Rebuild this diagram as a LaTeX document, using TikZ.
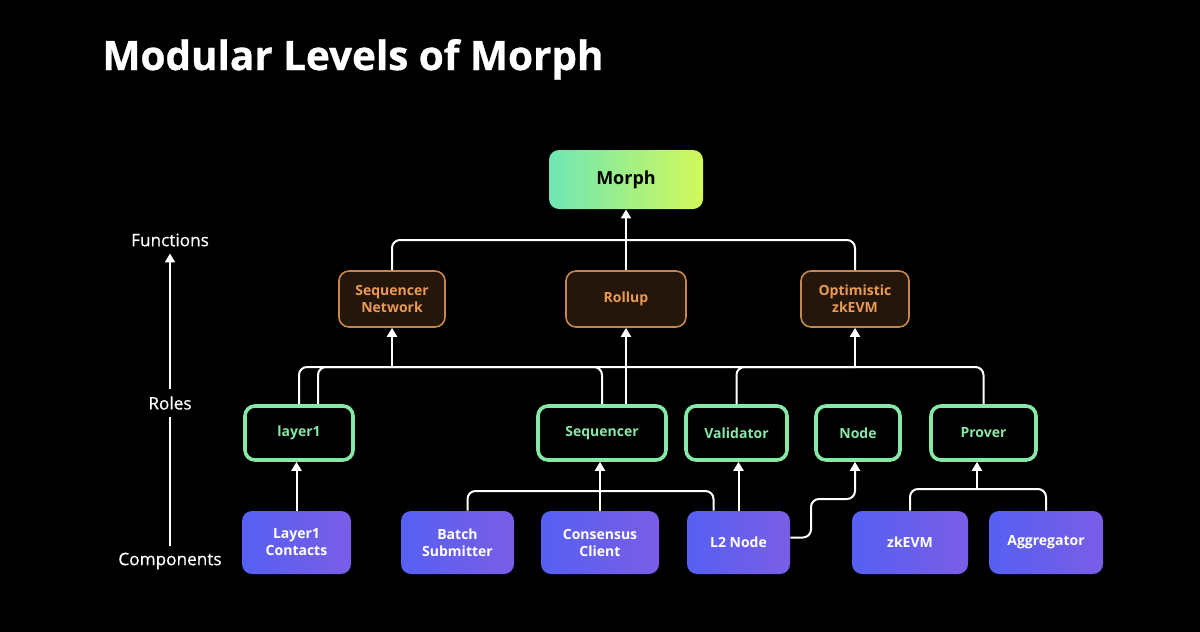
\documentclass[tikz,border=0pt]{standalone}
\usepackage{fontspec}
\setmainfont{Open Sans}
\newfontfamily\axfont[FakeBold=0.5]{Open Sans}
\newfontfamily\titlefont[FakeBold=0.8]{Open Sans Bold}
\usetikzlibrary{arrows.meta,calc}
\definecolor{bgblack}{HTML}{000000}
\definecolor{morphL}{HTML}{6EE6B4}
\definecolor{morphR}{HTML}{D2F95A}
\definecolor{fnfill}{HTML}{24160A}
\definecolor{fnline}{HTML}{C7864A}
\definecolor{fntext}{HTML}{EA9A55}
\definecolor{rolegreen}{HTML}{86E8A6}
\definecolor{compL}{HTML}{5660F2}
\definecolor{compR}{HTML}{7A5DE6}
\tikzset{
  box/.style={rounded corners=5pt, inner sep=0pt, align=center,
    font=\bfseries\fontsize{7}{8.5}\selectfont},
  fnbox/.style={box, draw=fnline, line width=0.8pt, fill=fnfill, text=fntext,
    minimum height=28pt},
  rolebox/.style={box, draw=rolegreen, line width=1.8pt, fill=black, text=rolegreen,
    minimum height=27pt},
  compbox/.style={box, left color=compL, right color=compR, text=white,
    minimum height=31.5pt},
  wire/.style={white, line width=1pt, rounded corners=4pt},
  arrow/.style={wire, -{Triangle[width=5pt,length=4.5pt]}},
  axlabel/.style={text=white, font=\axfont\fontsize{8.6}{10}\selectfont}
}
\begin{document}
\begin{tikzpicture}[x=0.5pt, y=-0.5pt]
  \fill[bgblack] (0,0) rectangle (1200,632);
  \useasboundingbox (0,0) rectangle (1200,632);
  % title
  \node[anchor=base west, inner sep=0pt, text=white, font=\titlefont\fontsize{20.2}{22}\selectfont]
    (title) at (102,70) {Modular Levels of Morph};
  % left axis
  \node[axlabel] (func) at (170,240) {Functions};
  \node[axlabel] (roles) at (170,403) {Roles};
  \node[axlabel] (comp) at (170,561) {Components};
  \draw[wire] (comp.north) -- (roles.south);
  \draw[arrow] (roles.north) -- (func.south);
  % top
  \node[box, left color=morphL, right color=morphR, text=black,
    minimum width=77pt, minimum height=29.5pt, font=\bfseries\fontsize{9}{11}\selectfont]
    (morph) at (626,179.5) {Morph};
  % functions
  \node[fnbox, minimum width=53pt] (seqnet) at (392,299) {Sequencer\\Network};
  \node[fnbox, minimum width=60pt] (rollup) at (626,299) {Rollup};
  \node[fnbox, minimum width=54pt] (optzk) at (855,299) {Optimistic\\zkEVM};
  % roles
  \node[rolebox, minimum width=54pt] (lay) at (299,433) {layer1};
  \node[rolebox, minimum width=64pt] (seqr) at (602,433) {Sequencer};
  \node[rolebox, minimum width=50.5pt] (valid) at (736.5,433) {Validator};
  \node[rolebox, minimum width=42pt] (nodebox) at (858,433) {Node};
  \node[rolebox, minimum width=52.5pt] (prover) at (983.5,433) {Prover};
  % components
  \node[compbox, minimum width=54.5pt] (lcon) at (296.5,542.5) {Layer1\\Contacts};
  \node[compbox, minimum width=56.5pt] (batch) at (457.5,542.5) {Batch\\Submitter};
  \node[compbox, minimum width=59pt] (cons) at (600,542.5) {Consensus\\Client};
  \node[compbox, minimum width=51.5pt] (ltwo) at (738.5,542.5) {L2 Node};
  \node[compbox, minimum width=58pt] (zkevm) at (910,542.5) {zkEVM};
  \node[compbox, minimum width=57pt] (aggr) at (1046,542.5) {Aggregator};
  % junctions
  \coordinate (mtop) at (626,240);
  \coordinate (snin) at (392,367);
  \coordinate (ozin) at (855,367);
  \coordinate (cbus) at (600,491);
  \coordinate (pbus) at (977,489);
  % functions -> morph
  \draw[wire] (seqnet.north) |- (mtop);
  \draw[wire] (optzk.north) |- (mtop);
  \draw[arrow] (rollup.north) -- (morph.south);
  % roles -> functions
  \draw[wire] (lay.north) |- (snin);
  \draw[wire] ($(lay.north)+(19,0)$) |- (ozin);
  \draw[wire] (seqr.north) |- (snin);
  \draw[arrow] (snin) -- (seqnet.south);
  \draw[arrow] ($(seqr.north)+(24,0)$) -- (rollup.south);
  \draw[wire] (valid.north) |- (ozin);
  \draw[wire] (prover.north) |- (ozin);
  \draw[arrow] (ozin) -- (optzk.south);
  % components -> roles
  \draw[arrow] (lcon.north) -- (lcon.north |- lay.south);
  \draw[wire] ($(batch.north)+(10,0)$) |- (cbus);
  \draw[wire] ($(ltwo.north)+(-25,0)$) |- (cbus);
  \draw[arrow] (cons.north) -- (cons.north |- seqr.south);
  \draw[arrow] (ltwo.north) -- (ltwo.north |- valid.south);
  \draw[arrow] ($(ltwo.east)+(0,-5)$) -| (811,499) -| ($(nodebox.south)+(-3,0)$);
  \draw[wire] (zkevm.north) |- (pbus);
  \draw[wire] (aggr.north) |- (pbus);
  \draw[arrow] (pbus) -- (pbus |- prover.south);
\end{tikzpicture}
\end{document}
